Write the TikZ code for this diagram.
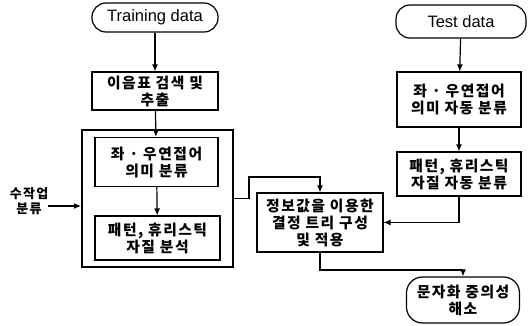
\documentclass[tikz,border=0pt]{standalone}
\usepackage{fontspec}
\setmainfont{Liberation Sans}
\newfontfamily\kr[LetterSpace=10]{Noto Sans CJK KR}
\usepackage{tikz}
\usetikzlibrary{arrows.meta}

\begin{document}
\begin{tikzpicture}[x=1pt,y=-1pt,>={Latex[length=7pt,width=6pt]},line width=1.2pt,
  term/.style={draw,rounded corners=14pt,align=center,inner sep=0pt},
  stepbox/.style={draw,align=center,inner sep=0pt,font=\kr\bfseries\fontsize{14.8}{17}\selectfont}]
\useasboundingbox (0,0) rectangle (528,326);

% training side
\node[term,minimum width=126pt,minimum height=29pt,font=\fontsize{16.5}{18}\selectfont] (train) at (155,17.5) {Training data};
\node[stepbox,minimum width=126pt,minimum height=38pt] (ext) at (155,91) {이음표 검색 및\\추출};
\node[draw,line width=2pt,minimum width=151pt,minimum height=137pt,inner sep=0pt] (outer) at (157.5,198.5) {};
\node[stepbox,minimum width=123pt,minimum height=49pt] (sem) at (156.5,162) {좌 · 우연접어\\의미 분류};
\node[stepbox,minimum width=125pt,minimum height=44pt] (feat) at (157.5,238) {패턴, 휴리스틱\\자질 분석};
\node[align=center,inner sep=0pt,font=\kr\bfseries\fontsize{13}{15}\selectfont] (manual) at (29,201) {수작업\\분류};
\coordinate (mstart) at (48,206);

% test side
\node[term,minimum width=130pt,minimum height=33pt,font=\fontsize{16.5}{18}\selectfont] (test) at (461,21.5) {Test data};
\node[stepbox,minimum width=124pt,minimum height=55pt] (tsem) at (459,99.5) {좌 · 우연접어\\의미 자동 분류};
\node[stepbox,minimum width=124pt,minimum height=44pt] (tfeat) at (459,174) {패턴, 휴리스틱\\자질 자동 분류};

% decision tree and result
\node[stepbox,minimum width=126pt,minimum height=59pt] (dtree) at (320,222.5) {정보값을 이용한\\결정 트리 구성\\및 적용};
\node[stepbox,rounded corners=16pt,minimum width=113pt,minimum height=46pt] (final) at (463,300) {문자화 중의성\\해소};
\coordinate (j1) at (320,177);
\coordinate (j2) at (463,270);

\draw[->] (train) -- (ext);
\draw[->] (ext) -- (sem);
\draw[->] (sem) -- (feat);
\draw[->] (mstart) -- (mstart -| outer.west);
\draw[->] (outer.east) -- ++(15,0) |- (j1) -- (dtree.north);

\draw[->] (test) -- (tsem);
\draw[->] (tsem) -- (tfeat);
\draw[->] (tfeat.south) |- (dtree.east);

\draw[->] (dtree.south) |- (j2) -- (final.north);
\end{tikzpicture}
\end{document}
